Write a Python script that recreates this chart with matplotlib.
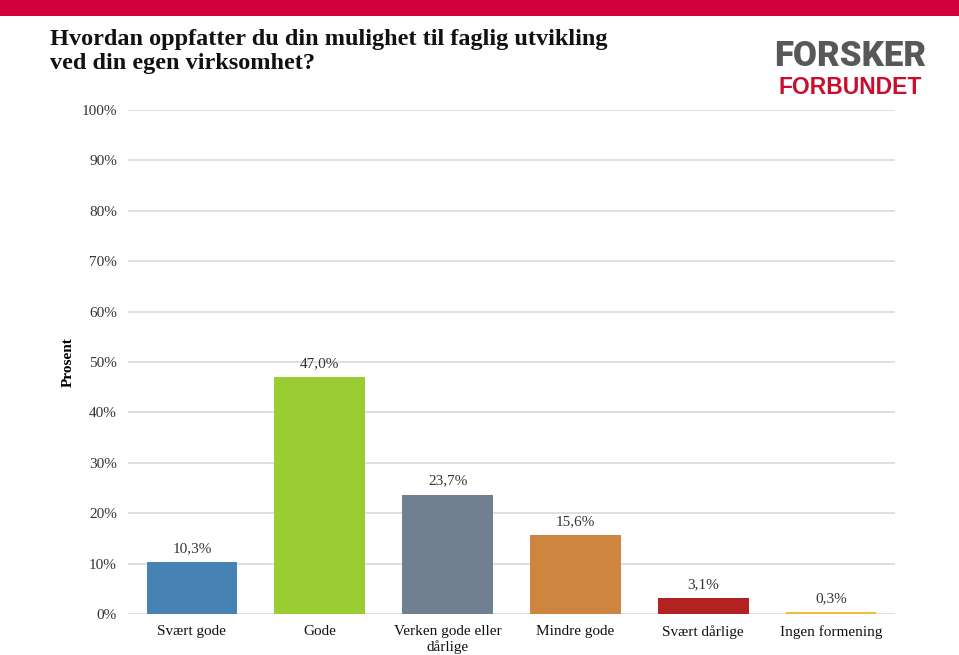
import matplotlib
matplotlib.use("Agg")
import matplotlib.pyplot as plt
from matplotlib.patches import Rectangle

categories = ["Svært gode", "Gode", "Verken gode eller\ndårlige", "Mindre gode", "Svært dårlige", "Ingen formening"]
values = [10.3, 47.0, 23.7, 15.6, 3.1, 0.3]
value_labels = ["10,3%", "47,0%", "23,7%", "15,6%", "3,1%", "0,3%"]
colors = ["#4682B4", "#9ACD32", "#708090", "#CD853F", "#B22222", "#F0B93A"]
yticks = [0, 10, 20, 30, 40, 50, 60, 70, 80, 90, 100]
ytick_labels = [f"{t}%" for t in yticks]

serif = ["Liberation Serif", "DejaVu Serif"]

fig = plt.figure(figsize=(9.59, 6.55), dpi=100)
fig.patches.append(Rectangle((0, 1 - 16/655), 1, 16/655, transform=fig.transFigure,
                             facecolor="#D0003A", edgecolor="none", zorder=0))

ax = fig.add_axes([128/959, 1 - 614/655, (895 - 128)/959, (614 - 110)/655])
x = range(len(categories))
ax.bar(x, values, width=0.71, color=colors, zorder=3)
for i, (v, lab) in enumerate(zip(values, value_labels)):
    ax.annotate(lab, (i, v), xytext=(0, 5), textcoords="offset points",
                ha="center", va="bottom", fontsize=11,
                family=serif, color="#333333")

ax.set_xlim(-0.5, len(categories) - 0.5)
ax.set_ylim(0, 100)
ax.set_yticks(yticks)
ax.set_yticklabels(ytick_labels, family=serif, fontsize=11, color="#333333")
ax.set_xticks(list(x))
ax.set_xticklabels(categories, family=serif, fontsize=11, color="#111111",
                   linespacing=1.15)
ax.tick_params(axis="y", length=0, pad=8)
ax.tick_params(axis="x", length=0, pad=8)
ax.yaxis.grid(True, color="#d9d9d9", linewidth=1.2, zorder=0)
for s in ax.spines.values():
    s.set_visible(False)
ax.set_ylabel("Prosent", family=serif, fontsize=11, fontweight="bold")
ax.yaxis.set_label_coords(-(128 - 75)/767, 0.5)

fig.text(50/959, 1 - 39/655, "Hvordan oppfatter du din mulighet til faglig utvikling",
         family=serif, fontsize=17.5, fontweight="bold", va="center", ha="left",
         color="#111111")
fig.text(50/959, 1 - 63/655, "ved din egen virksomhet?",
         family=serif, fontsize=17.5, fontweight="bold", va="center", ha="left",
         color="#111111")

fig.text(850/959, 1 - 57/655, "FORSKER", family=["Roboto", "DejaVu Sans"],
         fontweight="heavy", fontsize=25, color="#58585A", ha="center", va="center")
fig.text(850/959, 1 - 87/655, "FORBUNDET", family=["Liberation Sans", "DejaVu Sans"],
         fontweight="bold", fontsize=16.5, color="#C8102E", ha="center", va="center")

fig.savefig("out.png", dpi=100)
